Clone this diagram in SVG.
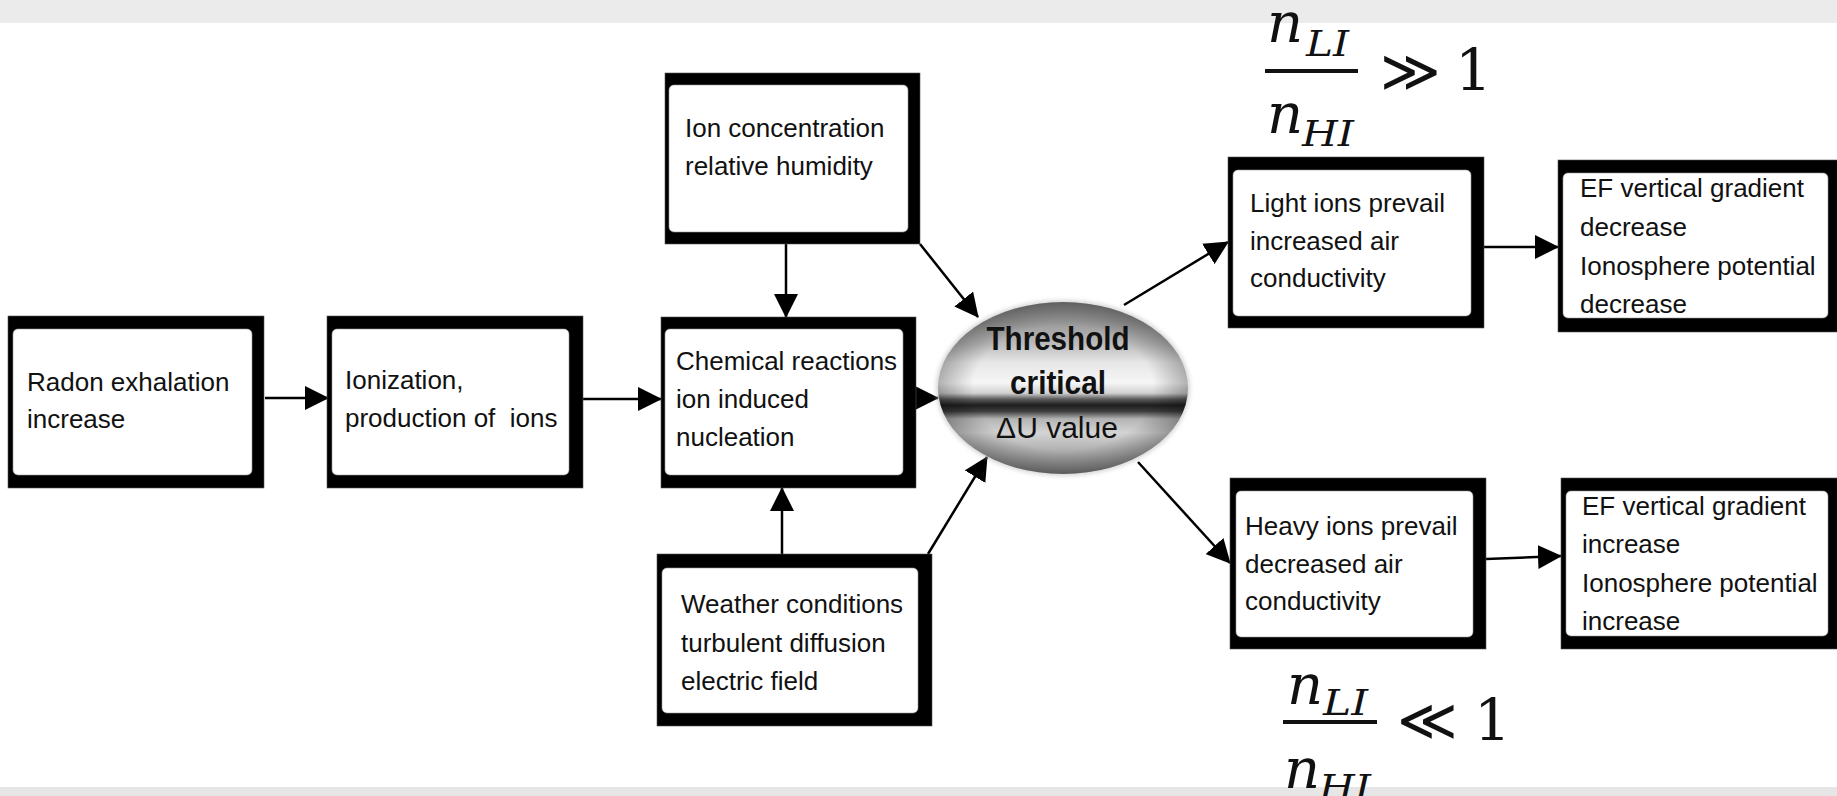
<svg xmlns="http://www.w3.org/2000/svg" width="1837" height="796" viewBox="0 0 1837 796">
<defs>
<style>
.frame{fill:#000;stroke:#555;stroke-width:0.6}
.inner{fill:#fff;stroke:#999;stroke-width:0.6}
.t{font-family:"Liberation Sans",Arial,sans-serif;font-size:26px;fill:#111}
.m{font-family:"DejaVu Serif","Liberation Serif",serif;fill:#111}
.mi{font-style:italic}
.ln{stroke:#000;stroke-width:2.5;fill:none;marker-end:url(#ah)}
</style>
<marker id="ah" markerUnits="userSpaceOnUse" markerWidth="24" markerHeight="24" refX="23" refY="12" orient="auto">
<path d="M0,0 L24,12 L0,24 z" fill="#000"/>
</marker>
<linearGradient id="metal" x1="0" y1="0" x2="0" y2="1">
<stop offset="0" stop-color="#858585"/>
<stop offset="0.12" stop-color="#9a9a9a"/>
<stop offset="0.25" stop-color="#bdbdbd"/>
<stop offset="0.35" stop-color="#e6e6e6"/>
<stop offset="0.47" stop-color="#f6f6f6"/>
<stop offset="0.53" stop-color="#d0d0d0"/>
<stop offset="0.565" stop-color="#5a5a5a"/>
<stop offset="0.6" stop-color="#1e1e1e"/>
<stop offset="0.635" stop-color="#3c3c3c"/>
<stop offset="0.68" stop-color="#b4b4b4"/>
<stop offset="0.76" stop-color="#d4d4d4"/>
<stop offset="0.88" stop-color="#aaaaaa"/>
<stop offset="1" stop-color="#808080"/>
</linearGradient>
<radialGradient id="edge" cx="0.5" cy="0.5" r="0.5">
<stop offset="0" stop-color="#000" stop-opacity="0"/>
<stop offset="0.72" stop-color="#000" stop-opacity="0"/>
<stop offset="1" stop-color="#000" stop-opacity="0.28"/>
</radialGradient>
<filter id="soft" x="-10%" y="-10%" width="120%" height="120%">
<feGaussianBlur stdDeviation="2"/>
</filter>
</defs>
<rect x="0" y="0" width="1837" height="796" fill="#fff"/>
<rect x="0" y="0" width="1837" height="23" fill="#ebebeb"/>
<rect x="0" y="787" width="1837" height="9" fill="#e6e6e6"/>

<g id="connectors">
<line class="ln" x1="265" y1="398" x2="328" y2="398"/>
<line class="ln" x1="583" y1="399" x2="661" y2="399"/>
<line class="ln" x1="786" y1="244" x2="786" y2="317"/>
<line class="ln" x1="920" y1="244" x2="978" y2="317"/>
<line class="ln" x1="916" y1="398" x2="938" y2="398"/>
<line class="ln" x1="782" y1="554" x2="782" y2="488"/>
<line class="ln" x1="928" y1="554" x2="987" y2="457"/>
<line class="ln" x1="1124" y1="305" x2="1228" y2="242"/>
<line class="ln" x1="1138" y1="462" x2="1230" y2="563"/>
<line class="ln" x1="1484" y1="247" x2="1558" y2="247"/>
<line class="ln" x1="1486" y1="559" x2="1561" y2="556"/>
</g>

<g id="radon">
<rect class="frame" x="8" y="316" width="256" height="172"/>
<rect class="inner" x="13" y="329" width="239" height="146" rx="5"/>
<text class="t" x="27" y="391">Radon exhalation</text>
<text class="t" x="27" y="428">increase</text>
</g>

<g id="ionization">
<rect class="frame" x="327" y="316" width="256" height="172"/>
<rect class="inner" x="332" y="329" width="237" height="146" rx="5"/>
<text class="t" x="345" y="389">Ionization,</text>
<text class="t" x="345" y="427" xml:space="preserve">production of  ions</text>
</g>

<g id="ion-concentration">
<rect class="frame" x="665" y="73" width="255" height="171"/>
<rect class="inner" x="669" y="85" width="239" height="147" rx="5"/>
<text class="t" x="685" y="137">Ion concentration</text>
<text class="t" x="685" y="175">relative humidity</text>
</g>

<g id="chemical">
<rect class="frame" x="661" y="317" width="255" height="171"/>
<rect class="inner" x="665" y="329" width="238" height="146" rx="5"/>
<text class="t" x="676" y="370">Chemical reactions</text>
<text class="t" x="676" y="408">ion induced</text>
<text class="t" x="676" y="446">nucleation</text>
</g>

<g id="weather">
<rect class="frame" x="657" y="554" width="275" height="172"/>
<rect class="inner" x="662" y="568" width="256" height="145" rx="5"/>
<text class="t" x="681" y="613">Weather conditions</text>
<text class="t" x="681" y="652">turbulent diffusion</text>
<text class="t" x="681" y="690">electric field</text>
</g>

<g id="threshold">
<ellipse cx="1063" cy="388" rx="127" ry="88" fill="#bbb" opacity="0.6" filter="url(#soft)"/>
<ellipse cx="1063" cy="388" rx="125" ry="86" fill="url(#metal)"/>
<ellipse cx="1063" cy="388" rx="125" ry="86" fill="url(#edge)"/>
<text x="1058" y="350" text-anchor="middle" font-family="Liberation Sans,Arial,sans-serif" font-weight="bold" font-size="33" fill="#111" textLength="143" lengthAdjust="spacingAndGlyphs">Threshold</text>
<text x="1058" y="394" text-anchor="middle" font-family="Liberation Sans,Arial,sans-serif" font-weight="bold" font-size="33" fill="#111" textLength="96" lengthAdjust="spacingAndGlyphs">critical</text>
<text x="1057" y="438" text-anchor="middle" font-family="Liberation Sans,Arial,sans-serif" font-size="30" fill="#111">ΔU value</text>
</g>

<g id="light-ions">
<rect class="frame" x="1228" y="157" width="256" height="171"/>
<rect class="inner" x="1233" y="170" width="238" height="146" rx="5"/>
<text class="t" x="1250" y="212">Light ions prevail</text>
<text class="t" x="1250" y="250">increased air</text>
<text class="t" x="1250" y="287">conductivity</text>
</g>

<g id="ef-decrease">
<rect class="frame" x="1558" y="160" width="285" height="172"/>
<rect class="inner" x="1563" y="173" width="265" height="145" rx="5"/>
<text class="t" x="1580" y="197">EF vertical gradient</text>
<text class="t" x="1580" y="236">decrease</text>
<text class="t" x="1580" y="275">Ionosphere potential</text>
<text class="t" x="1580" y="313">decrease</text>
</g>

<g id="heavy-ions">
<rect class="frame" x="1230" y="478" width="256" height="171"/>
<rect class="inner" x="1236" y="491" width="237" height="146" rx="5"/>
<text class="t" x="1245" y="535">Heavy ions prevail</text>
<text class="t" x="1245" y="573">decreased air</text>
<text class="t" x="1245" y="610">conductivity</text>
</g>

<g id="ef-increase">
<rect class="frame" x="1561" y="478" width="282" height="171"/>
<rect class="inner" x="1566" y="491" width="262" height="145" rx="5"/>
<text class="t" x="1582" y="515">EF vertical gradient</text>
<text class="t" x="1582" y="553">increase</text>
<text class="t" x="1582" y="592">Ionosphere potential</text>
<text class="t" x="1582" y="630">increase</text>
</g>

<g id="ratio-high">
<text class="m mi" x="1267" y="42" font-size="56">n</text>
<text class="m mi" x="1306" y="56" font-size="35" textLength="43" lengthAdjust="spacingAndGlyphs">LI</text>
<rect x="1265" y="69" width="93" height="4" fill="#111"/>
<text class="m" x="1380" y="91" font-size="58">≫</text>
<text class="m" x="1455" y="90" font-size="58">1</text>
<text class="m mi" x="1267" y="133" font-size="56">n</text>
<text class="m mi" x="1302" y="146" font-size="35" textLength="52" lengthAdjust="spacingAndGlyphs">HI</text>
</g>

<g id="ratio-low">
<text class="m mi" x="1287" y="704" font-size="56">n</text>
<text class="m mi" x="1323" y="715" font-size="35" textLength="45" lengthAdjust="spacingAndGlyphs">LI</text>
<rect x="1283" y="720" width="94" height="4" fill="#111"/>
<text class="m" x="1397" y="740" font-size="58">≪</text>
<text class="m" x="1474" y="740" font-size="58">1</text>
<text class="m mi" x="1284" y="788" font-size="56">n</text>
<text class="m mi" x="1319" y="800" font-size="35" textLength="52" lengthAdjust="spacingAndGlyphs">HI</text>
</g>
</svg>
